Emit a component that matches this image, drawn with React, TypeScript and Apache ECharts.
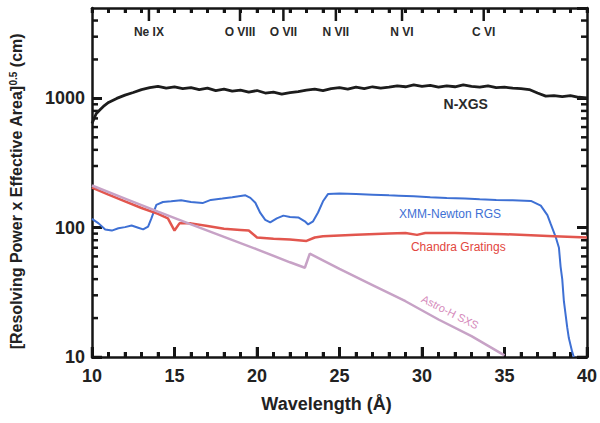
import React, { useEffect, useRef } from "react";
import * as echarts from "echarts";

const X_MIN = 10;
const X_MAX = 40;
const Y_MIN = 10;
const Y_MAX = 5000;

const ionNames = ["Ne IX", "O VIII", "O VII", "N VII", "N VI", "C VI"];
const ionWavelengths = [13.45, 18.97, 21.6, 24.78, 28.79, 33.74];

const xTickValues = [10, 11, 12, 13, 14, 15, 16, 17, 18, 19, 20, 21, 22, 23, 24, 25, 26, 27, 28, 29, 30, 31, 32, 33, 34, 35, 36, 37, 38, 39, 40];
const yMajorTicks = [10, 100, 1000];
const yMinorTicks = [20, 30, 40, 50, 60, 70, 80, 90, 200, 300, 400, 500, 600, 700, 800, 900, 2000, 3000, 4000];

const seriesNames = ["N-XGS", "XMM-Newton RGS", "Chandra Gratings", "Astro-H SXS"];
const labelWavelengths = [32.65, 31.7, 32.2, 31.7];
const labelValues = [906, 128, 71, 22.3];

const nxgs: [number, number][] = [
  [10.0, 640], [10.25, 760], [10.5, 820], [10.75, 880], [11.0, 930], [11.5, 1000], [12.0, 1060], [12.5, 1110],
  [13.0, 1170], [13.5, 1210], [14.0, 1240], [14.5, 1200], [15.0, 1225], [15.5, 1190], [16.0, 1210],
  [16.5, 1170], [17.0, 1200], [17.5, 1150], [18.0, 1180], [18.5, 1140], [19.0, 1160], [19.5, 1120],
  [20.0, 1150], [20.5, 1100], [21.0, 1120], [21.5, 1080], [22.0, 1110], [22.5, 1130], [23.0, 1160],
  [23.5, 1180], [24.0, 1150], [24.5, 1190], [25.0, 1210], [25.5, 1180], [26.0, 1220], [26.5, 1190],
  [27.0, 1230], [27.5, 1200], [28.0, 1220], [28.5, 1250], [29.0, 1230], [29.5, 1270], [30.0, 1240],
  [30.5, 1260], [31.0, 1220], [31.5, 1250], [32.0, 1230], [32.5, 1270], [33.0, 1240], [33.5, 1220],
  [34.0, 1250], [34.5, 1210], [35.0, 1220], [35.5, 1200], [36.0, 1190], [36.5, 1170], [37.0, 1100],
  [37.5, 1040], [38.0, 1050], [38.5, 1030], [39.0, 1050], [39.5, 1020], [40.0, 1010],
];

const xmmRgs: [number, number][] = [
  [10.0, 117], [10.4, 108], [10.8, 97], [11.2, 95], [11.6, 99], [12.0, 101], [12.4, 104], [12.8, 100],
  [13.1, 97], [13.4, 102], [13.6, 118], [13.9, 150], [14.3, 158], [14.8, 160], [15.4, 163], [16.0, 158],
  [16.7, 155], [17.2, 164], [17.9, 168], [18.5, 172], [19.0, 176], [19.3, 178], [19.6, 170], [19.9, 156],
  [20.2, 130], [20.5, 115], [20.8, 110], [21.2, 118], [21.6, 124], [22.0, 121], [22.5, 120], [22.9, 112],
  [23.1, 106], [23.4, 112], [23.7, 131], [24.0, 160], [24.3, 182], [25.0, 184], [26.0, 182], [27.0, 180],
  [28.0, 178], [28.6, 177], [29.5, 175], [30.5, 172], [31.5, 170], [32.6, 168], [33.5, 166], [34.5, 164],
  [35.5, 163], [36.6, 161], [37.2, 148], [37.6, 125], [37.8, 107], [38.1, 85], [38.3, 70], [38.4, 50],
  [38.5, 40], [38.6, 27], [38.8, 17], [38.9, 14], [39.1, 11], [39.2, 10],
];

const chandra: [number, number][] = [
  [10.0, 204], [11.0, 180], [12.0, 160], [13.0, 142], [14.0, 128], [14.6, 118], [15.0, 95], [15.3, 108],
  [16.0, 108], [17.0, 103], [18.0, 98], [19.0, 96], [19.5, 95], [20.0, 84], [21.0, 82], [22.0, 81],
  [23.0, 79], [23.5, 84], [24.0, 86], [26.0, 88], [28.0, 90], [29.0, 91], [29.7, 88], [30.2, 91],
  [32.0, 91], [35.0, 89], [38.0, 86], [40.0, 84],
];

const astroH: [number, number][] = [
  [10.0, 212], [12.0, 168], [14.0, 133], [16.0, 106], [18.0, 85], [20.0, 68], [22.0, 54], [22.9, 49],
  [23.2, 63], [25.0, 48], [27.0, 36], [29.0, 27], [31.0, 19.5], [33.0, 14.5], [35.0, 10.3],
];

const FONT = "Liberation Sans";
const AXIS_COLOR = "#151515";
const lineColors = ["#1c1c1c", "#3e70d4", "#e2564e", "#c7a2c6"];
const labelColors = ["#2a2a2a", "#3e70d4", "#e2463e", "#d68cbc"];

const tick = (len: number) => ({ show: true, inside: true, length: len, lineStyle: { color: AXIS_COLOR, width: 3 } });
const axisLine = () => ({ show: true, lineStyle: { color: AXIS_COLOR, width: 2.5 } });
const seg = (x1: number, y1: number, x2: number, y2: number) => ({
  type: "polyline",
  shape: { points: [[x1, y1], [x2, y2]] },
  style: { stroke: AXIS_COLOR, lineWidth: 2.5, fill: "none" },
});

export default function App() {
  const ref = useRef<HTMLDivElement>(null);
  useEffect(() => {
    const chart = echarts.init(ref.current!, null, { renderer: "svg" });
    const yTicks = [...yMajorTicks.map((v) => [X_MIN, v, 1]), ...yMinorTicks.map((v) => [X_MIN, v, 0])];
    const option: any = {
      animation: false,
      grid: { left: 90, right: 12, top: 8, bottom: 66 },
      xAxis: [
        {
          type: "value",
          position: "bottom",
          min: X_MIN,
          max: X_MAX,
          interval: 5,
          name: "Wavelength (Å)",
          nameLocation: "middle",
          nameGap: 38,
          nameTextStyle: { fontFamily: FONT, fontWeight: "bold", fontSize: 18, color: "#222", padding: [0, 26, 0, 0] },
          axisLine: axisLine(),
          axisTick: tick(10),
          minorTick: { show: true, splitNumber: 5, length: 5, lineStyle: { color: AXIS_COLOR, width: 3 } },
          minorSplitLine: { show: false },
          axisLabel: { fontFamily: FONT, fontWeight: "bold", fontSize: 18, color: "#222", margin: 10 },
          splitLine: { show: false },
        },
        {
          type: "value",
          position: "top",
          min: X_MIN,
          max: X_MAX,
          interval: 1,
          axisLine: axisLine(),
          axisTick: tick(5),
          axisLabel: { show: false },
          splitLine: { show: false },
        },
      ],
      yAxis: [
        {
          type: "log",
          position: "left",
          min: Y_MIN,
          max: Y_MAX,
          logBase: 10,
          name: "[Resolving Power x Effective Area]{sup|0.5} (cm)",
          nameLocation: "middle",
          nameGap: 68,
          nameTextStyle: {
            fontFamily: FONT, fontWeight: "bold", fontSize: 16, color: "#222", padding: [0, 18, 0, 0],
            rich: { sup: { fontFamily: FONT, fontWeight: "bold", fontSize: 10, color: "#222", verticalAlign: "top" } },
          },
          axisLine: axisLine(),
          axisTick: tick(10),
          axisLabel: {
            fontFamily: FONT, fontWeight: "bold", fontSize: 18, color: "#222", margin: 7, showMaxLabel: false,
            formatter: (v: number) => String(Math.round(v)),
          },
          splitLine: { show: false },
        },
        {
          type: "log",
          position: "right",
          min: Y_MIN,
          max: Y_MAX,
          logBase: 10,
          axisLine: axisLine(),
          axisTick: tick(10),
          axisLabel: { show: false },
          splitLine: { show: false },
        },
      ],
      series: [
        { name: seriesNames[0], type: "line", data: nxgs, showSymbol: false, lineStyle: { color: lineColors[0], width: 2.8 } },
        { name: seriesNames[1], type: "line", data: xmmRgs, showSymbol: false, lineStyle: { color: lineColors[1], width: 2 } },
        { name: seriesNames[2], type: "line", data: chandra, showSymbol: false, lineStyle: { color: lineColors[2], width: 2.5 } },
        { name: seriesNames[3], type: "line", data: astroH, showSymbol: false, lineStyle: { color: lineColors[3], width: 2.5 } },
        {
          type: "custom",
          silent: true,
          data: yTicks,
          renderItem: (_p: any, api: any) => {
            const v = api.value(1);
            const len = api.value(2) ? 10 : 6;
            const l = api.coord([X_MIN, v]);
            const r = api.coord([X_MAX, v]);
            return {
              type: "group",
              children: [seg(l[0], l[1], l[0] + len, l[1]), seg(r[0] - len, r[1], r[0], r[1])],
            };
          },
        },
        {
          type: "custom",
          silent: true,
          data: xTickValues.map((w) => [w, Y_MIN]),
          renderItem: (_p: any, api: any) => {
            const w = api.value(0);
            const b = api.coord([w, Y_MIN]);
            const t = api.coord([w, Y_MAX]);
            const len = w % 5 === 0 ? 10 : 5;
            return {
              type: "group",
              children: [seg(b[0], b[1], b[0], b[1] - len), seg(t[0], t[1], t[0], t[1] + 5)],
            };
          },
        },
        {
          type: "custom",
          silent: true,
          data: ionWavelengths.map((w) => [w, Y_MAX]),
          renderItem: (p: any, api: any) => {
            const pt = api.coord([api.value(0), api.value(1)]);
            return {
              type: "group",
              children: [
                seg(pt[0], pt[1], pt[0], pt[1] + 13),
                {
                  type: "text",
                  x: pt[0],
                  y: pt[1] + 24,
                  style: {
                    text: ionNames[p.dataIndex],
                    fontFamily: FONT,
                    fontWeight: "bold",
                    fontSize: 12,
                    fill: "#2a2a2a",
                    align: "center",
                    verticalAlign: "middle",
                  },
                },
              ],
            };
          },
        },
        {
          type: "custom",
          silent: true,
          data: labelWavelengths.map((w, i) => [w, labelValues[i]]),
          renderItem: (p: any, api: any) => {
            const i = p.dataIndex;
            const pt = api.coord([api.value(0), api.value(1)]);
            return {
              type: "text",
              x: pt[0],
              y: pt[1],
              rotation: i === 3 ? -0.47 : 0,
              style: {
                text: seriesNames[i],
                fontFamily: FONT,
                fontWeight: i === 0 ? "bold" : "normal",
                fontSize: i === 0 ? 14 : i === 3 ? 11 : 12,
                fill: labelColors[i],
                align: "center",
                verticalAlign: "middle",
              },
            };
          },
        },
      ],
    };
    chart.setOption(option);
    return () => chart.dispose();
  }, []);
  return (
    <div
      ref={ref}
      style={{ position: "fixed", left: 0, top: 0, width: 600, height: 423, background: "#fff" }}
    />
  );
}
